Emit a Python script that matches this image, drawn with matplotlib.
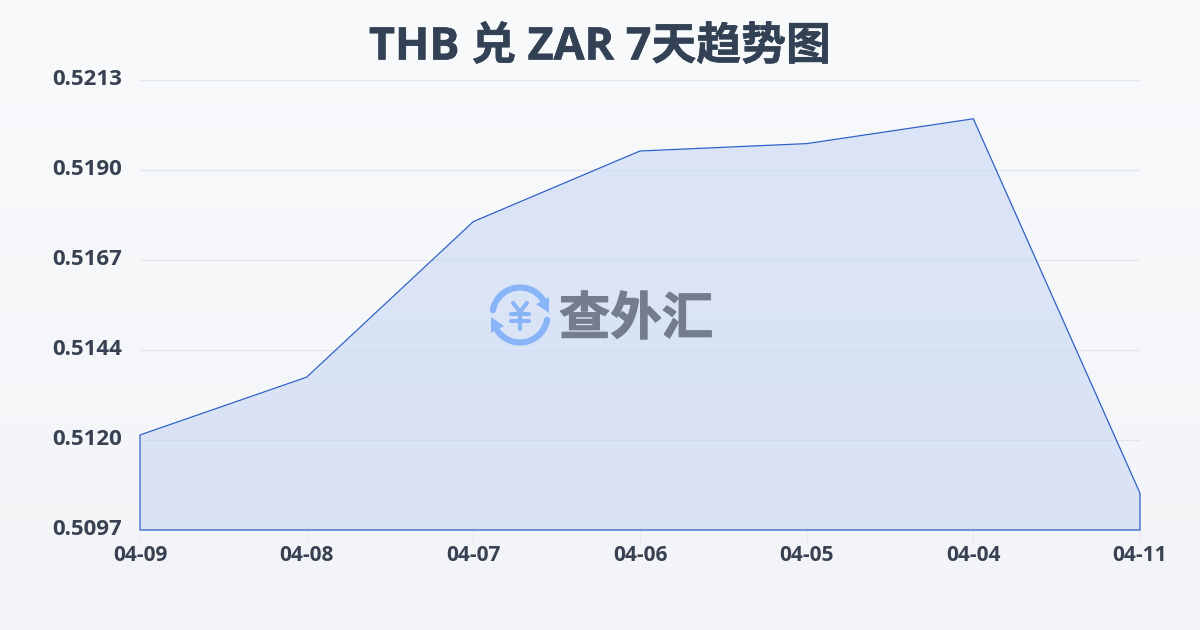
import numpy as np
import matplotlib
matplotlib.use('Agg')
import matplotlib.pyplot as plt
import matplotlib.patheffects as pe
from matplotlib.patches import Arc, Polygon
from matplotlib.colors import LinearSegmentedColormap
from matplotlib.transforms import ScaledTranslation

FONTS = ['Open Sans', 'Noto Sans CJK SC', 'DejaVu Sans']
plt.rcParams['font.family'] = FONTS

dates = ['04-09', '04-08', '04-07', '04-06', '04-05', '04-04', '04-11']
rates = [0.51215, 0.51364, 0.51765, 0.51947, 0.51966, 0.52030, 0.51065]
y_ticks = [0.5097, 0.51202, 0.51434, 0.51666, 0.51898, 0.5213]
y_labels = ['0.5097', '0.5120', '0.5144', '0.5167', '0.5190', '0.5213']

W, H = 1200, 630
fig = plt.figure(figsize=(W / 100, H / 100), dpi=100)

# background gradient
bg = fig.add_axes([0, 0, 1, 1], zorder=0)
bg.axis('off')
cmap = LinearSegmentedColormap.from_list('bg', ['#f8fafc', '#f2f4f7'])
bg.imshow(np.linspace(0, 1, 256).reshape(-1, 1), aspect='auto', cmap=cmap, vmin=0, vmax=1)

ax = fig.add_axes([140 / W, 1 - 530 / H, 1000 / W, 450 / H], zorder=1)
ax.patch.set_alpha(0)
x = np.arange(len(dates))
ax.set_xlim(0, len(dates) - 1)
ax.set_ylim(y_ticks[0], y_ticks[-1])

ax.fill_between(x, rates, y_ticks[0], color='#bdd0f3', alpha=0.48, lw=0, zorder=2)
ax.grid(axis='y', color='#e3e7ed', lw=0.8, zorder=3)
ax.fill_between(x, rates, y_ticks[0], facecolor='none', edgecolor='#2f62c8', lw=0.9,
                clip_on=False, zorder=4)

for s in ax.spines.values():
    s.set_visible(False)
ax.set_xticks(x, dates)
ax.set_yticks(y_ticks, y_labels)
ax.tick_params(axis='x', length=10, width=0.8, color='#e8eaee', pad=0.5,
               labelsize=15, labelcolor='#374151')
ax.tick_params(axis='y', length=0, pad=13, labelsize=16, labelcolor='#374151')
for t in ax.get_xticklabels() + ax.get_yticklabels():
    t.set_fontweight('bold')
# y labels sit a bit above their gridlines
up = ScaledTranslation(0, 3 / 100, fig.dpi_scale_trans)
for t in ax.get_yticklabels():
    t.set_transform(t.get_transform() + up)

title = fig.text(600 / W, 1 - 48 / H, 'THB 兑 ZAR 7天趋势图', ha='center', va='center',
                 fontsize=32.3, fontweight='bold', color='#334155', family=FONTS)
title.set_path_effects([pe.withStroke(linewidth=0.4, foreground='#334155')])

# watermark logo, in pixel coordinates
wm = fig.add_axes([0, 0, 1, 1], zorder=5)
wm.axis('off')
wm.set_xlim(0, W)
wm.set_ylim(H, 0)
blue = '#8ab4f8'
cx, cy = 520, 315
wm.add_patch(Arc((cx, cy), 55, 55, theta1=190, theta2=325, color=blue, lw=4.5, capstyle='round'))
wm.add_patch(Arc((cx, cy), 55, 55, theta1=10, theta2=145, color=blue, lw=4.5, capstyle='round'))
wm.add_patch(Polygon([[549, 297], [549, 313], [536, 304]], color=blue, lw=0))
wm.add_patch(Polygon([[491, 317], [491, 333], [504, 326]], color=blue, lw=0))
# yen sign strokes
for xs, ys in [([513, 520, 527], [303, 312, 303]), ([520, 520], [312, 329]),
               ([511, 529], [314, 314]), ([511, 529], [321, 321])]:
    wm.plot(xs, ys, color=blue, lw=3, solid_capstyle='round', solid_joinstyle='round')
wm_text = wm.text(636, 319, '查外汇', ha='center', va='center', fontsize=37, fontweight='bold',
                  color='#737d8f', family=['Noto Sans CJK SC', 'DejaVu Sans'])
wm_text.set_path_effects([pe.withStroke(linewidth=0.8, foreground='#737d8f')])

fig.savefig('out.png', dpi=100)
